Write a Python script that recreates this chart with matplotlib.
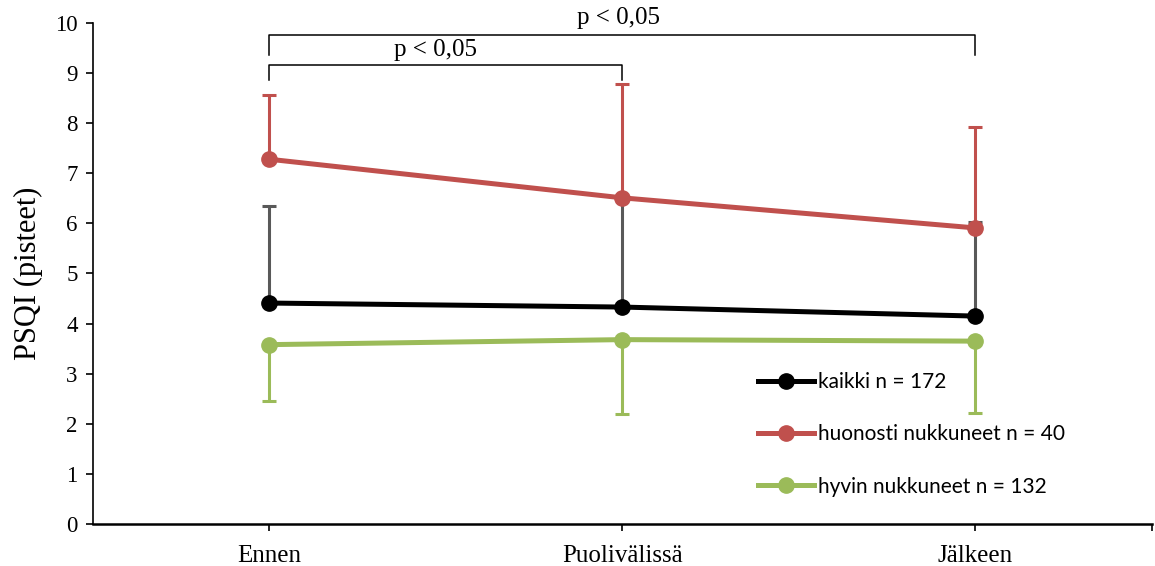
import matplotlib
matplotlib.use("Agg")
import matplotlib.pyplot as plt
import numpy as np

categories = ["Ennen", "Puolivälissä", "Jälkeen"]
kaikki = [4.41, 4.33, 4.15]
kaikki_sd = [1.94, 2.15, 1.88]
huonosti = [7.28, 6.51, 5.91]
huonosti_sd = [1.29, 2.27, 2.01]
hyvin = [3.58, 3.68, 3.65]
hyvin_sd = [1.13, 1.49, 1.44]
labels = ["kaikki n = 172", "huonosti nukkuneet n = 40", "hyvin nukkuneet n = 132"]
p_text = "p < 0,05"

BLACK = "#000000"
GRAY = "#595959"
RED = "#C0504D"
GREEN = "#9BBB59"
SERIF = "Liberation Serif"

fig = plt.figure(figsize=(11.55, 5.66), dpi=100)
ax = fig.add_axes([0.0805, 0.0742, 0.9165, 0.8852])
x = np.arange(len(categories))

zero = np.zeros(len(categories))
ax.errorbar(x, kaikki, yerr=[zero, kaikki_sd], fmt="none", ecolor=GRAY, elinewidth=2.2,
            capsize=5, capthick=2.2, zorder=2)
ax.errorbar(x, huonosti, yerr=[zero, huonosti_sd], fmt="none", ecolor=RED, elinewidth=2.2,
            capsize=5, capthick=2.2, zorder=2)
ax.errorbar(x, hyvin, yerr=[hyvin_sd, zero], fmt="none", ecolor=GREEN, elinewidth=2.2,
            capsize=5, capthick=2.2, zorder=2)

l1, = ax.plot(x, kaikki, color=BLACK, lw=3.6, marker="o", ms=11, label=labels[0], zorder=4)
l2, = ax.plot(x, huonosti, color=RED, lw=3.6, marker="o", ms=11, label=labels[1], zorder=4)
l3, = ax.plot(x, hyvin, color=GREEN, lw=3.6, marker="o", ms=11, label=labels[2], zorder=4)

ax.set_xlim(-0.5, 2.5)
ax.set_ylim(0, 10)
ax.set_yticks(range(0, 11))
ax.set_xticks(x)
ax.set_xticks([2.5], minor=True)
ax.set_xticklabels(categories)
for s in ["top", "right"]:
    ax.spines[s].set_visible(False)
ax.spines["left"].set_linewidth(1.2)
ax.spines["bottom"].set_linewidth(1.8)
ax.tick_params(axis="both", which="both", direction="out", length=5, width=1.2,
               labelsize=16.5, labelfontfamily=SERIF)
ax.tick_params(axis="y", pad=6)
ax.tick_params(axis="x", pad=10, labelsize=18)
ax.set_ylabel("PSQI (pisteet)", fontsize=22, family=SERIF, labelpad=9)

def bracket(x0, x1, ytop, ybot, tx, ty):
    ax.plot([x0, x0, x1, x1], [ybot, ytop, ytop, ybot], color="black", lw=1.1,
            clip_on=False, zorder=5)
    ax.text(tx, ty, p_text, ha="center", va="center", fontsize=18,
            family=SERIF, clip_on=False)

bracket(x[0], x[2], 9.76, 9.36, 0.99, 10.1)
bracket(x[0], x[1], 9.16, 8.86, 0.47, 9.46)

ax.legend(handles=[l1, l2, l3], loc="upper left", bbox_to_anchor=(0.62, 0.32),
          frameon=False, handlelength=2.7, handletextpad=0.2,
          labelspacing=1.55, borderaxespad=0,
          prop={"family": "Lato", "size": 15})

fig.savefig("out.png", dpi=100)
